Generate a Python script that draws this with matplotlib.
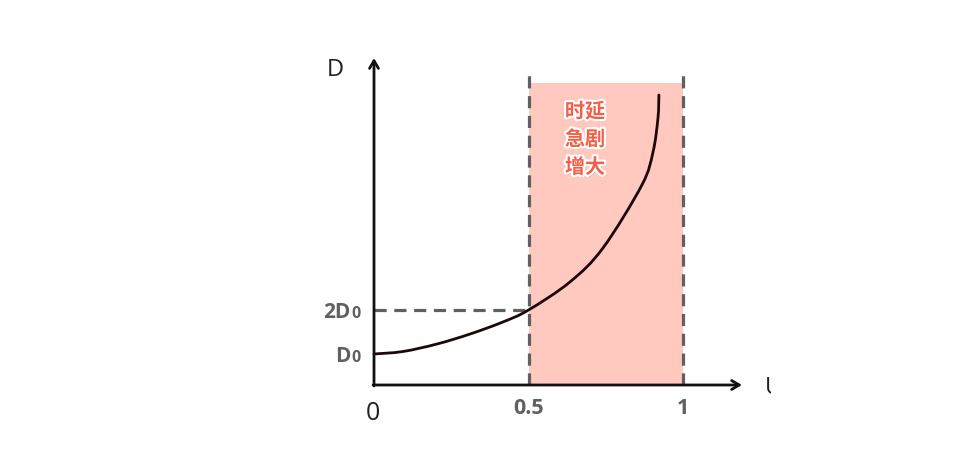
import matplotlib.pyplot as plt
import matplotlib.patheffects as pe
from matplotlib.patches import Rectangle, PathPatch
from matplotlib.path import Path
from matplotlib.transforms import Bbox, TransformedBbox

plt.rcParams['font.family'] = ['Open Sans', 'DejaVu Sans']

# curve: utilisation U and delay D (arbitrary units, D0 = 31)
u_vals = [0.0, 0.094, 0.204, 0.311, 0.417, 0.5, 0.634, 0.741, 0.867, 0.903, 0.919, 0.922]
d_vals = [31, 33.5, 41, 51, 63, 75, 103, 137, 200, 233, 267, 290]

x_ticks = [0.5, 1]
x_tick_labels = ['0.5', '1']
y_ticks = [31, 75]
y_tick_labels = [('D', '0'), ('2D', '0')]

region = (0.5, 1.0)     # steep-growth region
region_top = 302
dash_top = 313
note = '时延\n急剧\n增大'

fig = plt.figure(figsize=(9.66, 4.5), dpi=100)
ax = fig.add_axes([0, 0, 1, 1])
# one unit of U is 309 px, origin at pixel (374, 385)
ax.set_xlim(-374 / 309, (966 - 374) / 309)
ax.set_ylim(-65, 385)
ax.axis('off')

grey = '#606060'
dash_kw = dict(color=grey, lw=2.3, dashes=(3.8, 2.4), solid_capstyle='butt')

# shaded region
ax.add_patch(Rectangle((region[0], 0), region[1] - region[0], region_top,
                       facecolor='#ffc9c0', edgecolor='none', zorder=1))

# dashed guides
for xv in region:
    ax.plot([xv, xv], [0, dash_top], zorder=2, **dash_kw)
ax.plot([0, 0.5], [y_ticks[1], y_ticks[1]], zorder=2, **dash_kw)

# the curve, a smooth cubic path through the read points (catmull-rom handles)
pts = list(zip(u_vals, d_vals))
verts = [pts[0]]
codes = [Path.MOVETO]
for i in range(len(pts) - 1):
    p0 = pts[max(i - 1, 0)]
    p1, p2 = pts[i], pts[i + 1]
    p3 = pts[min(i + 2, len(pts) - 1)]
    c1 = (p1[0] + (p2[0] - p0[0]) / 6, p1[1] + (p2[1] - p0[1]) / 6)
    c2 = (p2[0] - (p3[0] - p1[0]) / 6, p2[1] - (p3[1] - p1[1]) / 6)
    verts += [c1, c2, p2]
    codes += [Path.CURVE4] * 3
ax.add_patch(PathPatch(Path(verts, codes), facecolor='none', edgecolor='#1c0808',
                       lw=2, zorder=3, capstyle='round'))

# axes with arrows
arrow = dict(arrowstyle='->,head_length=0.55,head_width=0.32', lw=2, color='#111111',
             shrinkA=0, shrinkB=0)
ax.annotate('', xy=(0, 327), xytext=(0, -1), arrowprops=arrow, zorder=4)
ax.annotate('', xy=(368 / 309, 0), xytext=(-0.003, 0), arrowprops=arrow, zorder=4)

# axis names
ax.text(-39 / 309, 315, 'D', fontsize=17, color='#222222', ha='center', va='center')
u_lbl = ax.text(765 / 309 - 374 / 309, -3, 'U', fontsize=17, color='#222222',
                ha='left', va='center')
u_lbl.set_clip_on(True)
u_lbl.set_clip_box(TransformedBbox(Bbox([[0, -60], [(771 - 374) / 309, 60]]), ax.transData))

ax.text(-0.005, -28, '0', fontsize=18, color='#222222', ha='center', va='center')

for xv, lbl in zip(x_ticks, x_tick_labels):
    ax.text(xv, -24, lbl, fontsize=15.5, fontweight='bold', color=grey,
            ha='center', va='center')

for yv, (main, sub) in zip(y_ticks, y_tick_labels):
    xr = (351 - 374) / 309
    ax.text(xr, yv - 8, main, fontsize=15, fontweight='bold', color=grey,
            ha='right', va='baseline')
    ax.text(xr, yv - 8, sub, fontsize=11.5, fontweight='bold', color=grey,
            ha='left', va='baseline')

# annotation in the shaded region
ax.text((585 - 374) / 309, 385 - 139, note, fontsize=14.5, fontweight='heavy',
        color='#f2604a', ha='center', va='center', linespacing=1.4,
        family=['Noto Sans CJK SC', 'DejaVu Sans'],
        path_effects=[pe.withSimplePatchShadow(offset=(1, -1.5), shadow_rgbFace='#b08880', alpha=0.6),
                      pe.withStroke(linewidth=3, foreground='white')])

fig.savefig('out.png', dpi=100)
